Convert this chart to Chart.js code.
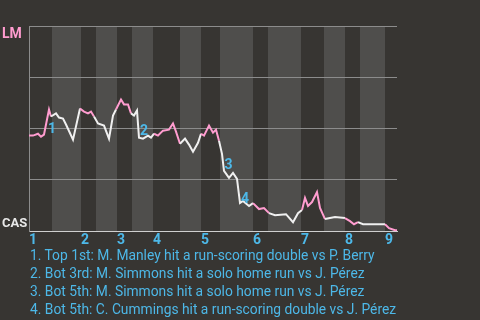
<!DOCTYPE html>
<html>
<head>
<meta charset="utf-8">
<script src="https://cdn.jsdelivr.net/npm/chart.js@4.4.1/dist/chart.umd.min.js"></script>
<style>
  html, body { margin: 0; padding: 0; background: #373532; }
  #wrap { position: relative; width: 480px; height: 320px; }
  #notes { position: absolute; left: 30px; top: 246px; color: #4db8e8; font: 13.8px Roboto, sans-serif; line-height: 18px; white-space: nowrap; }
</style>
</head>
<body>
<div id="wrap">
  <canvas id="wp" width="480" height="320"></canvas>
  <div id="notes"></div>
</div>
<script>
// progression du match (unités de jeu) et proba de victoire LM en %
const playX = [0, 1, 2.25, 3, 3.75, 5, 5.5, 6.75, 7.5, 8.5, 9.25, 11, 12.75, 13.75, 14.75, 15.5, 16.25, 17.25, 18.75, 20,
  21, 21.75, 23, 23.75, 24.75, 25.5, 26.25, 27, 27.5, 28.5, 29.75, 30.5, 31.25, 32.25, 33.5, 35, 36, 36.75, 37.75, 39,
  40, 41, 42.25, 43, 43.75, 45, 46, 46.75, 47.5, 48.25, 48.75, 50, 51, 52, 52.75, 53.5, 55, 56, 57.5, 58.75,
  60, 61.5, 64.25, 66, 67.25, 68.25, 69, 69.75, 70.75, 72, 72.75, 74, 75.25, 76.5, 79, 80.25, 81.25, 82.25, 83.5, 85.25,
  89, 90, 91.5, 92];
const lmWinPct = [46.6, 46.6, 47.5, 46.1, 47.1, 59.3, 55.9, 57.4, 55.4, 54.9, 52.0, 44.6, 59.8, 58.3, 57.4, 58.3, 55.9, 52.5, 51.5, 45.1,
  56.4, 59.3, 64.2, 61.8, 61.8, 57.4, 56.4, 58.8, 45.6, 45.1, 46.6, 45.6, 47.5, 46.6, 49.0, 49.5, 52.5, 48.5, 42.6, 45.1,
  42.2, 38.7, 43.1, 47.5, 46.6, 51.5, 48.0, 49.5, 44.1, 37.7, 29.4, 26.0, 28.4, 25.5, 13.7, 14.7, 12.3, 13.7, 10.8, 11.3,
  8.8, 7.8, 8.3, 4.4, 8.8, 10.3, 16.2, 12.3, 14.2, 19.1, 11.3, 5.9, 6.4, 6.9, 6.4, 4.9, 3.4, 4.4, 3.4, 3.4,
  3.4, 1.5, 0.5, 0.5];

// manches : début de manche et début de la 2e moitié
const inningStarts = [0, 13, 22, 31, 43, 56, 68, 79, 89];
const bottomStarts = [5.75, 16.75, 25.75, 37.75, 47.75, 59.75, 73.75, 82.75];
const gameEnd = 92;
const inningLabels = ['1', '2', '3', '4', '5', '6', '7', '8', '9'];

// faits marquants
const noteNums = ['1', '2', '3', '4'];
const noteX = [5.75, 28.75, 49.9, 54];
const noteY = [49.5, 48.5, 31.9, 15.3];
const noteText = [
  '1. Top 1st: M. Manley hit a run-scoring double vs P. Berry',
  '2. Bot 3rd: M. Simmons hit a solo home run vs J. Pérez',
  '3. Bot 5th: M. Simmons hit a solo home run vs J. Pérez',
  '4. Bot 5th: C. Cummings hit a run-scoring double vs J. Pérez'
];

const PINK = '#ff9ccf';
const WHITE = '#f0f0f0';
const BLUE = '#4db8e8';
const FONT = 'Roboto, sans-serif';

function isTop(x) {
  let i = 0;
  while (i + 1 < inningStarts.length && inningStarts[i + 1] <= x) i++;
  return i >= bottomStarts.length || x < bottomStarts[i];
}

const bandsPlugin = {
  id: 'bands',
  beforeDraw(chart) {
    const { ctx, chartArea, scales } = chart;
    ctx.save();
    ctx.fillStyle = '#4f4e4c';
    bottomStarts.forEach((b, i) => {
      const end = i + 1 < inningStarts.length ? inningStarts[i + 1] : gameEnd;
      const x0 = scales.x.getPixelForValue(b);
      const x1 = scales.x.getPixelForValue(end);
      ctx.fillRect(x0, chartArea.top, x1 - x0, chartArea.bottom - chartArea.top);
    });
    ctx.restore();
  }
};

const labelsPlugin = {
  id: 'labels',
  afterDatasetsDraw(chart) {
    const { ctx, scales } = chart;
    ctx.save();
    ctx.font = 'bold 14px ' + FONT;
    ctx.textAlign = 'left';
    ctx.textBaseline = 'top';
    ctx.fillStyle = PINK;
    ctx.fillText('LM', 2, scales.y.getPixelForValue(100) + 1);
    ctx.font = 'bold 13px ' + FONT;
    ctx.textBaseline = 'alphabetic';
    ctx.fillStyle = '#e8e8e8';
    ctx.fillText('CAS', 2, scales.y.getPixelForValue(0) - 4);

    ctx.font = 'bold 14px ' + FONT;
    ctx.textAlign = 'center';
    ctx.textBaseline = 'middle';
    ctx.fillStyle = BLUE;
    noteNums.forEach((n, i) => {
      ctx.fillText(n, scales.x.getPixelForValue(noteX[i]), scales.y.getPixelForValue(noteY[i]));
    });
    ctx.restore();
  }
};

document.getElementById('notes').innerHTML = noteText.map(t => '<div>' + t + '</div>').join('');

new Chart(document.getElementById('wp'), {
  type: 'line',
  data: {
    datasets: [{
      data: playX.map((x, i) => ({ x: x, y: lmWinPct[i] })),
      borderWidth: 2,
      pointRadius: 0,
      tension: 0,
      borderColor: WHITE,
      segment: {
        borderColor: c => isTop((c.p0.parsed.x + c.p1.parsed.x) / 2) ? PINK : WHITE
      }
    }]
  },
  options: {
    responsive: false,
    animation: false,
    devicePixelRatio: 1,
    layout: { padding: { left: 29, right: 83, top: 26, bottom: 70 } },
    plugins: { legend: { display: false }, tooltip: { enabled: false } },
    scales: {
      x: {
        type: 'linear',
        min: 0,
        max: gameEnd,
        afterBuildTicks: axis => { axis.ticks = inningStarts.map(v => ({ value: v })); },
        grid: { display: false, drawTicks: false },
        border: { display: true, color: '#cfcfcf', width: 1 },
        ticks: {
          autoSkip: false,
          maxRotation: 0,
          align: 'start',
          padding: 1,
          color: BLUE,
          font: { family: FONT, size: 14, weight: 'bold' },
          callback: (v, i) => inningLabels[i]
        }
      },
      y: {
        min: 0,
        max: 100,
        ticks: { display: false, stepSize: 25 },
        grid: {
          drawTicks: false,
          color: c => c.tick.value === 0 ? 'rgba(0,0,0,0)' : '#8c8c8c'
        },
        border: { display: true, color: '#8c8c8c', width: 1 }
      }
    }
  },
  plugins: [bandsPlugin, labelsPlugin]
});
</script>
</body>
</html>
